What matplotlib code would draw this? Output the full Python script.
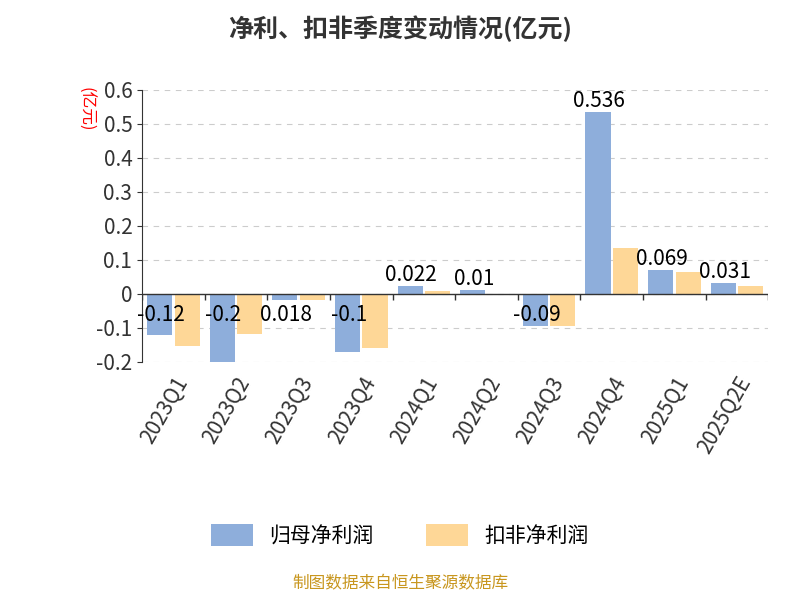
import matplotlib.pyplot as plt
import numpy as np

plt.rcParams['font.family'] = ['Noto Sans CJK SC', 'DejaVu Sans']

quarters = ["2023Q1", "2023Q2", "2023Q3", "2023Q4", "2024Q1", "2024Q2",
            "2024Q3", "2024Q4", "2025Q1", "2025Q2E"]
net_profit = [-0.12, -0.2, -0.018, -0.17, 0.022, 0.01, -0.095, 0.536, 0.069, 0.031]
deducted = [-0.153, -0.117, -0.018, -0.16, 0.008, 0.0, -0.095, 0.135, 0.065, 0.022]
labels = ["-0.12", "-0.2", "0.018", "-0.1", "0.022", "0.01", "-0.09", "0.536", "0.069", "0.031"]

fig = plt.figure(figsize=(8, 6), dpi=100)
ax = fig.add_axes([0.1775, 0.397, 0.783, 0.453])
x = np.arange(len(quarters))
w = 0.4
ax.bar(x - w / 2 - 0.02, net_profit, w, color="#8eaedb", label="归母净利润")
ax.bar(x + w / 2 + 0.02, deducted, w, color="#fed797", label="扣非净利润")
for xi, v, t in zip(x, net_profit, labels):
    if v >= 0:
        ax.text(xi - w / 2, v, t, ha="center", va="bottom", fontsize=15)
    else:
        ax.text(xi - w / 2, -0.03, t, ha="center", va="top", fontsize=15)

ax.set_xlim(-0.5, len(quarters) - 0.5)
ax.set_ylim(-0.2, 0.6)
ax.set_yticks(np.arange(-0.2, 0.61, 0.1))
ax.set_yticklabels(["-0.2", "-0.1", "0", "0.1", "0.2", "0.3", "0.4", "0.5", "0.6"])
ax.tick_params(axis="y", labelsize=15, labelcolor="#333333", color="#333333")
ax.set_xticks(x)
ax.set_xticklabels(quarters, rotation=60, ha="right", rotation_mode="anchor")
ax.tick_params(axis="x", length=0, labelsize=15, labelcolor="#333333", pad=8)
ax.spines["bottom"].set_visible(False)
for s in ["top", "right"]:
    ax.spines[s].set_visible(False)
ax.spines["left"].set_color("#333333")
# zero line with category separator ticks
ax.axhline(0, color="#333333", lw=1)
ax.vlines(np.arange(-0.5, len(quarters)), -0.018, 0, color="#333333", lw=1)
ax.grid(axis="y", linestyle=(0, (5, 5)), color="#cccccc")
ax.set_axisbelow(True)
ax.text(-0.09, 0.93, "(亿元)", transform=ax.transAxes, color="red", fontsize=12, rotation=-90, ha="center", va="center")

fig.suptitle("净利、扣非季度变动情况(亿元)", y=0.975, fontsize=18, fontweight="bold", color="#333333")
fig.legend(loc="center", bbox_to_anchor=(0.5, 0.107), ncol=2, frameon=False, fontsize=15,
           handlelength=2.0, handleheight=1.2, columnspacing=2.5)
fig.text(0.5, 0.02, "制图数据来自恒生聚源数据库", ha="center", fontsize=12, color="#c8961e")
fig.savefig("out.png")
